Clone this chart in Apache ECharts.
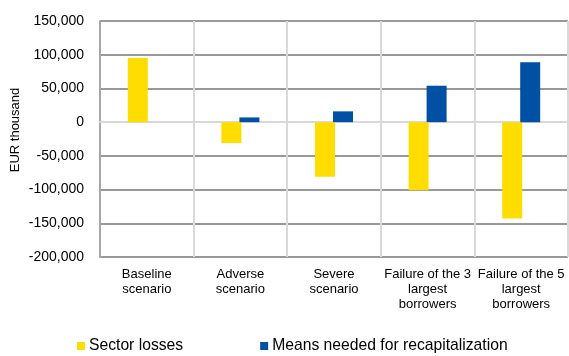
<!DOCTYPE html>
<html>
<head>
<meta charset="utf-8">
<script src="https://cdn.jsdelivr.net/npm/echarts@6/dist/echarts.min.js"></script>
<style>
html,body{margin:0;padding:0;background:#fff;}
#chart{width:569px;height:356px;}
</style>
</head>
<body>
<div id="chart"></div>
<script>
var categories = ['Baseline\nscenario', 'Adverse\nscenario', 'Severe\nscenario', 'Failure of the 3\nlargest\nborrowers', 'Failure of the 5\nlargest\nborrowers'];
var sectorLosses = [95000, -31000, -81000, -101000, -143000];
var recapMeans = [0, 7000, 16000, 54000, 89000];
var seriesNames = ['Sector losses', 'Means needed for recapitalization'];
var yAxisTitle = 'EUR thousand';

var chart = echarts.init(document.getElementById('chart'), null, {renderer: 'canvas'});
var font = 'Liberation Sans, Arial, sans-serif';
chart.setOption({
  animation: false,
  textStyle: {fontFamily: font},
  grid: {left: 100, top: 21, right: 1, bottom: 99, containLabel: false},
  legend: {
    data: seriesNames,
    left: 77, top: 338, padding: 0,
    icon: 'rect', itemWidth: 8, itemHeight: 8, itemGap: 77,
    textStyle: {fontSize: 15.7, color: '#000', fontFamily: font, padding: [0, 0, 0, -1]}
  },
  xAxis: {
    type: 'category',
    data: categories,
    axisLine: {show: true, onZero: true, lineStyle: {color: '#d9d9d9', width: 2}},
    axisTick: {show: false},
    splitLine: {show: true, lineStyle: {color: '#d9d9d9', width: 2}},
    axisLabel: {fontSize: 13, color: '#000', lineHeight: 15, margin: 10, interval: 0},
    position: 'bottom'
  },
  yAxis: {
    type: 'value',
    min: -200000, max: 150000, interval: 50000,
    axisLine: {show: true, lineStyle: {color: '#a6a6a6', width: 2}},
    axisTick: {show: false},
    splitLine: {show: true, lineStyle: {color: '#999999', width: 2}},
    axisLabel: {fontSize: 14, color: '#000', margin: 16,
      formatter: function (v) { return v.toLocaleString('en-US'); }}
  },
  graphic: [{
    type: 'text',
    x: 9, y: 130, rotation: Math.PI / 2,
    style: {text: yAxisTitle, fontSize: 13, fill: '#000', fontFamily: font,
      align: 'center', verticalAlign: 'top'}
  }],
  series: [
    {name: seriesNames[0], type: 'bar', data: sectorLosses, barWidth: 20, barGap: '-10%',
      itemStyle: {color: '#FFDD00'}},
    {name: seriesNames[1], type: 'bar', data: recapMeans, barWidth: 20,
      itemStyle: {color: '#0050A3'}}
  ]
});
</script>
</body>
</html>
